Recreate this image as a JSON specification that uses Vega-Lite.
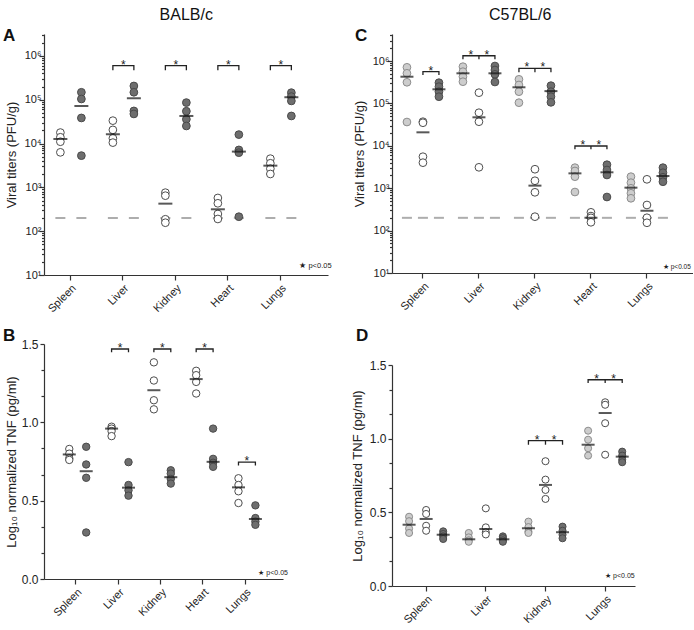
{
  "$schema": "https://vega.github.io/schema/vega-lite/v6.json",
  "padding": {"left": 3, "top": 7, "right": 0, "bottom": 0},
  "config": {
    "font": "Liberation Sans",
    "view": {"stroke": null},
    "axis": {"grid": false, "domainColor": "#333", "tickColor": "#333", "labelColor": "#222", "titleColor": "#222", "labelFontSize": 11, "titleFontSize": 13, "titleFontWeight": "normal", "domainWidth": 1.2, "tickWidth": 1.2, "labelOverlap": false, "labelFlush": false},
    "title": {"color": "#111", "font": "Liberation Sans"}
  },
  "datasets": {
    "A_pts": [
      {"organ": "Spleen", "group": "open", "v": 17800}, {"organ": "Spleen", "group": "open", "v": 13900}, {"organ": "Spleen", "group": "open", "v": 11000}, {"organ": "Spleen", "group": "open", "v": 6300},
      {"organ": "Spleen", "group": "filled", "v": 148000}, {"organ": "Spleen", "group": "filled", "v": 104000}, {"organ": "Spleen", "group": "filled", "v": 38400}, {"organ": "Spleen", "group": "filled", "v": 5300},
      {"organ": "Liver", "group": "open", "v": 33300}, {"organ": "Liver", "group": "open", "v": 20500}, {"organ": "Liver", "group": "open", "v": 13200}, {"organ": "Liver", "group": "open", "v": 10500},
      {"organ": "Liver", "group": "filled", "v": 206000}, {"organ": "Liver", "group": "filled", "v": 148000}, {"organ": "Liver", "group": "filled", "v": 55500}, {"organ": "Liver", "group": "filled", "v": 47400},
      {"organ": "Kidney", "group": "open", "v": 757}, {"organ": "Kidney", "group": "open", "v": 646}, {"organ": "Kidney", "group": "open", "v": 187}, {"organ": "Kidney", "group": "open", "v": 156},
      {"organ": "Kidney", "group": "filled", "v": 86000}, {"organ": "Kidney", "group": "filled", "v": 54600}, {"organ": "Kidney", "group": "filled", "v": 35900}, {"organ": "Kidney", "group": "filled", "v": 25200},
      {"organ": "Heart", "group": "open", "v": 573}, {"organ": "Heart", "group": "open", "v": 433}, {"organ": "Heart", "group": "open", "v": 247}, {"organ": "Heart", "group": "open", "v": 190},
      {"organ": "Heart", "group": "filled", "v": 16000}, {"organ": "Heart", "group": "filled", "v": 7150}, {"organ": "Heart", "group": "filled", "v": 6200}, {"organ": "Heart", "group": "filled", "v": 214},
      {"organ": "Lungs", "group": "open", "v": 4520}, {"organ": "Lungs", "group": "open", "v": 3550}, {"organ": "Lungs", "group": "open", "v": 2670}, {"organ": "Lungs", "group": "open", "v": 2020},
      {"organ": "Lungs", "group": "filled", "v": 145000}, {"organ": "Lungs", "group": "filled", "v": 118000}, {"organ": "Lungs", "group": "filled", "v": 94000}, {"organ": "Lungs", "group": "filled", "v": 42600}
    ],
    "A_mean": [
      {"organ": "Spleen", "group": "open", "v": 12700}, {"organ": "Spleen", "group": "filled", "v": 72000},
      {"organ": "Liver", "group": "open", "v": 16300}, {"organ": "Liver", "group": "filled", "v": 108000},
      {"organ": "Kidney", "group": "open", "v": 425}, {"organ": "Kidney", "group": "filled", "v": 42600},
      {"organ": "Heart", "group": "open", "v": 316}, {"organ": "Heart", "group": "filled", "v": 6550},
      {"organ": "Lungs", "group": "open", "v": 3130}, {"organ": "Lungs", "group": "filled", "v": 114000}
    ],
    "A_lod": [
      {"organ": "Spleen", "group": "open", "v": 200}, {"organ": "Spleen", "group": "filled", "v": 200},
      {"organ": "Liver", "group": "open", "v": 200}, {"organ": "Liver", "group": "filled", "v": 200},
      {"organ": "Kidney", "group": "open", "v": 200}, {"organ": "Kidney", "group": "filled", "v": 200},
      {"organ": "Heart", "group": "open", "v": 200}, {"organ": "Heart", "group": "filled", "v": 200},
      {"organ": "Lungs", "group": "open", "v": 200}, {"organ": "Lungs", "group": "filled", "v": 200}
    ],
    "A_br": [
      {"id": "Liver", "organ": "Liver", "group": "open", "v": 470000, "ord": 1}, {"id": "Liver", "organ": "Liver", "group": "open", "v": 600000, "ord": 2}, {"id": "Liver", "organ": "Liver", "group": "filled", "v": 600000, "ord": 3}, {"id": "Liver", "organ": "Liver", "group": "filled", "v": 470000, "ord": 4},
      {"id": "Kidney", "organ": "Kidney", "group": "open", "v": 470000, "ord": 1}, {"id": "Kidney", "organ": "Kidney", "group": "open", "v": 600000, "ord": 2}, {"id": "Kidney", "organ": "Kidney", "group": "filled", "v": 600000, "ord": 3}, {"id": "Kidney", "organ": "Kidney", "group": "filled", "v": 470000, "ord": 4},
      {"id": "Heart", "organ": "Heart", "group": "open", "v": 470000, "ord": 1}, {"id": "Heart", "organ": "Heart", "group": "open", "v": 600000, "ord": 2}, {"id": "Heart", "organ": "Heart", "group": "filled", "v": 600000, "ord": 3}, {"id": "Heart", "organ": "Heart", "group": "filled", "v": 470000, "ord": 4},
      {"id": "Lungs", "organ": "Lungs", "group": "open", "v": 470000, "ord": 1}, {"id": "Lungs", "organ": "Lungs", "group": "open", "v": 600000, "ord": 2}, {"id": "Lungs", "organ": "Lungs", "group": "filled", "v": 600000, "ord": 3}, {"id": "Lungs", "organ": "Lungs", "group": "filled", "v": 470000, "ord": 4}
    ],
    "A_star": [
      {"organ": "Liver", "group": "mid", "v": 600000}, {"organ": "Kidney", "group": "mid", "v": 600000}, {"organ": "Heart", "group": "mid", "v": 600000}, {"organ": "Lungs", "group": "mid", "v": 600000}
    ],
    "A_note": [{"organ": "Lungs", "group": "filled", "v": 14.5}],
    "B_pts": [
      {"organ": "Spleen", "group": "open", "v": 0.83}, {"organ": "Spleen", "group": "open", "v": 0.80}, {"organ": "Spleen", "group": "open", "v": 0.77}, {"organ": "Spleen", "group": "open", "v": 0.76},
      {"organ": "Spleen", "group": "filled", "v": 0.844}, {"organ": "Spleen", "group": "filled", "v": 0.731}, {"organ": "Spleen", "group": "filled", "v": 0.646}, {"organ": "Spleen", "group": "filled", "v": 0.297},
      {"organ": "Liver", "group": "open", "v": 0.972}, {"organ": "Liver", "group": "open", "v": 0.96}, {"organ": "Liver", "group": "open", "v": 0.944}, {"organ": "Liver", "group": "open", "v": 0.912},
      {"organ": "Liver", "group": "filled", "v": 0.746}, {"organ": "Liver", "group": "filled", "v": 0.60}, {"organ": "Liver", "group": "filled", "v": 0.566}, {"organ": "Liver", "group": "filled", "v": 0.532},
      {"organ": "Kidney", "group": "open", "v": 1.383}, {"organ": "Kidney", "group": "open", "v": 1.267}, {"organ": "Kidney", "group": "open", "v": 1.141}, {"organ": "Kidney", "group": "open", "v": 1.083},
      {"organ": "Kidney", "group": "filled", "v": 0.694}, {"organ": "Kidney", "group": "filled", "v": 0.673}, {"organ": "Kidney", "group": "filled", "v": 0.639}, {"organ": "Kidney", "group": "filled", "v": 0.609},
      {"organ": "Heart", "group": "open", "v": 1.329}, {"organ": "Heart", "group": "open", "v": 1.301}, {"organ": "Heart", "group": "open", "v": 1.258}, {"organ": "Heart", "group": "open", "v": 1.184},
      {"organ": "Heart", "group": "filled", "v": 0.96}, {"organ": "Heart", "group": "filled", "v": 0.767}, {"organ": "Heart", "group": "filled", "v": 0.742}, {"organ": "Heart", "group": "filled", "v": 0.716},
      {"organ": "Lungs", "group": "open", "v": 0.643}, {"organ": "Lungs", "group": "open", "v": 0.60}, {"organ": "Lungs", "group": "open", "v": 0.56}, {"organ": "Lungs", "group": "open", "v": 0.485},
      {"organ": "Lungs", "group": "filled", "v": 0.47}, {"organ": "Lungs", "group": "filled", "v": 0.389}, {"organ": "Lungs", "group": "filled", "v": 0.367}, {"organ": "Lungs", "group": "filled", "v": 0.346}
    ],
    "B_mean": [
      {"organ": "Spleen", "group": "open", "v": 0.795}, {"organ": "Spleen", "group": "filled", "v": 0.688},
      {"organ": "Liver", "group": "open", "v": 0.96}, {"organ": "Liver", "group": "filled", "v": 0.583},
      {"organ": "Kidney", "group": "open", "v": 1.205}, {"organ": "Kidney", "group": "filled", "v": 0.65},
      {"organ": "Heart", "group": "open", "v": 1.276}, {"organ": "Heart", "group": "filled", "v": 0.748},
      {"organ": "Lungs", "group": "open", "v": 0.585}, {"organ": "Lungs", "group": "filled", "v": 0.383}
    ],
    "B_br": [
      {"id": "Liver", "organ": "Liver", "group": "open", "v": 1.447, "ord": 1}, {"id": "Liver", "organ": "Liver", "group": "open", "v": 1.468, "ord": 2}, {"id": "Liver", "organ": "Liver", "group": "filled", "v": 1.468, "ord": 3}, {"id": "Liver", "organ": "Liver", "group": "filled", "v": 1.447, "ord": 4},
      {"id": "Kidney", "organ": "Kidney", "group": "open", "v": 1.447, "ord": 1}, {"id": "Kidney", "organ": "Kidney", "group": "open", "v": 1.468, "ord": 2}, {"id": "Kidney", "organ": "Kidney", "group": "filled", "v": 1.468, "ord": 3}, {"id": "Kidney", "organ": "Kidney", "group": "filled", "v": 1.447, "ord": 4},
      {"id": "Heart", "organ": "Heart", "group": "open", "v": 1.447, "ord": 1}, {"id": "Heart", "organ": "Heart", "group": "open", "v": 1.468, "ord": 2}, {"id": "Heart", "organ": "Heart", "group": "filled", "v": 1.468, "ord": 3}, {"id": "Heart", "organ": "Heart", "group": "filled", "v": 1.447, "ord": 4},
      {"id": "Lungs", "organ": "Lungs", "group": "open", "v": 0.724, "ord": 1}, {"id": "Lungs", "organ": "Lungs", "group": "open", "v": 0.746, "ord": 2}, {"id": "Lungs", "organ": "Lungs", "group": "filled", "v": 0.746, "ord": 3}, {"id": "Lungs", "organ": "Lungs", "group": "filled", "v": 0.724, "ord": 4}
    ],
    "B_star": [
      {"organ": "Liver", "group": "mid", "v": 1.468}, {"organ": "Kidney", "group": "mid", "v": 1.468}, {"organ": "Heart", "group": "mid", "v": 1.468}, {"organ": "Lungs", "group": "mid", "v": 0.746}
    ],
    "B_note": [{"organ": "Lungs", "group": "filled", "v": 0.026}],
    "C_pts": [
      {"organ": "Spleen", "group": "light", "v": 710000}, {"organ": "Spleen", "group": "light", "v": 513000}, {"organ": "Spleen", "group": "light", "v": 315000}, {"organ": "Spleen", "group": "light", "v": 36400},
      {"organ": "Spleen", "group": "open", "v": 37000}, {"organ": "Spleen", "group": "open", "v": 35000}, {"organ": "Spleen", "group": "open", "v": 5530}, {"organ": "Spleen", "group": "open", "v": 4000},
      {"organ": "Spleen", "group": "dark", "v": 308000}, {"organ": "Spleen", "group": "dark", "v": 248000}, {"organ": "Spleen", "group": "dark", "v": 189000}, {"organ": "Spleen", "group": "dark", "v": 144000},
      {"organ": "Liver", "group": "light", "v": 735000}, {"organ": "Liver", "group": "light", "v": 560000}, {"organ": "Liver", "group": "light", "v": 427000}, {"organ": "Liver", "group": "light", "v": 325000},
      {"organ": "Liver", "group": "open", "v": 179000}, {"organ": "Liver", "group": "open", "v": 60300}, {"organ": "Liver", "group": "open", "v": 37000}, {"organ": "Liver", "group": "open", "v": 3110},
      {"organ": "Liver", "group": "dark", "v": 762000}, {"organ": "Liver", "group": "dark", "v": 614000}, {"organ": "Liver", "group": "dark", "v": 485000}, {"organ": "Liver", "group": "dark", "v": 320000},
      {"organ": "Kidney", "group": "light", "v": 370000}, {"organ": "Kidney", "group": "light", "v": 272000}, {"organ": "Kidney", "group": "light", "v": 189000}, {"organ": "Kidney", "group": "light", "v": 104000},
      {"organ": "Kidney", "group": "open", "v": 2800}, {"organ": "Kidney", "group": "open", "v": 1500}, {"organ": "Kidney", "group": "open", "v": 800}, {"organ": "Kidney", "group": "open", "v": 213},
      {"organ": "Kidney", "group": "dark", "v": 262000}, {"organ": "Kidney", "group": "dark", "v": 189000}, {"organ": "Kidney", "group": "dark", "v": 144000}, {"organ": "Kidney", "group": "dark", "v": 106000},
      {"organ": "Heart", "group": "light", "v": 3050}, {"organ": "Heart", "group": "light", "v": 2550}, {"organ": "Heart", "group": "light", "v": 1870}, {"organ": "Heart", "group": "light", "v": 813},
      {"organ": "Heart", "group": "open", "v": 270}, {"organ": "Heart", "group": "open", "v": 220}, {"organ": "Heart", "group": "open", "v": 200}, {"organ": "Heart", "group": "open", "v": 157},
      {"organ": "Heart", "group": "dark", "v": 3580}, {"organ": "Heart", "group": "dark", "v": 2690}, {"organ": "Heart", "group": "dark", "v": 2050}, {"organ": "Heart", "group": "dark", "v": 620},
      {"organ": "Lungs", "group": "light", "v": 1870}, {"organ": "Lungs", "group": "light", "v": 1350}, {"organ": "Lungs", "group": "light", "v": 995}, {"organ": "Lungs", "group": "light", "v": 760}, {"organ": "Lungs", "group": "light", "v": 578},
      {"organ": "Lungs", "group": "open", "v": 1620}, {"organ": "Lungs", "group": "open", "v": 402}, {"organ": "Lungs", "group": "open", "v": 201}, {"organ": "Lungs", "group": "open", "v": 153},
      {"organ": "Lungs", "group": "dark", "v": 3050}, {"organ": "Lungs", "group": "dark", "v": 2320}, {"organ": "Lungs", "group": "dark", "v": 1810}, {"organ": "Lungs", "group": "dark", "v": 1420}
    ],
    "C_mean": [
      {"organ": "Spleen", "group": "light", "v": 426000}, {"organ": "Spleen", "group": "open", "v": 20800}, {"organ": "Spleen", "group": "dark", "v": 215000},
      {"organ": "Liver", "group": "light", "v": 513000}, {"organ": "Liver", "group": "open", "v": 47000}, {"organ": "Liver", "group": "dark", "v": 513000},
      {"organ": "Kidney", "group": "light", "v": 240000}, {"organ": "Kidney", "group": "open", "v": 1150}, {"organ": "Kidney", "group": "dark", "v": 195000},
      {"organ": "Heart", "group": "light", "v": 2240}, {"organ": "Heart", "group": "open", "v": 201}, {"organ": "Heart", "group": "dark", "v": 2370},
      {"organ": "Lungs", "group": "light", "v": 1030}, {"organ": "Lungs", "group": "open", "v": 294}, {"organ": "Lungs", "group": "dark", "v": 1940}
    ],
    "C_lod": [
      {"organ": "Spleen", "group": "light", "v": 200}, {"organ": "Spleen", "group": "open", "v": 200}, {"organ": "Spleen", "group": "dark", "v": 200},
      {"organ": "Liver", "group": "light", "v": 200}, {"organ": "Liver", "group": "open", "v": 200}, {"organ": "Liver", "group": "dark", "v": 200},
      {"organ": "Kidney", "group": "light", "v": 200}, {"organ": "Kidney", "group": "open", "v": 200}, {"organ": "Kidney", "group": "dark", "v": 200},
      {"organ": "Heart", "group": "light", "v": 200}, {"organ": "Heart", "group": "open", "v": 200}, {"organ": "Heart", "group": "dark", "v": 200},
      {"organ": "Lungs", "group": "light", "v": 200}, {"organ": "Lungs", "group": "open", "v": 200}, {"organ": "Lungs", "group": "dark", "v": 200}
    ],
    "C_br": [
      {"id": "Spleen", "organ": "Spleen", "group": "open", "v": 468000, "ord": 1}, {"id": "Spleen", "organ": "Spleen", "group": "open", "v": 560000, "ord": 2}, {"id": "Spleen", "organ": "Spleen", "group": "dark", "v": 560000, "ord": 3}, {"id": "Spleen", "organ": "Spleen", "group": "dark", "v": 468000, "ord": 4},
      {"id": "Liver", "organ": "Liver", "group": "light", "v": 1100000, "ord": 1}, {"id": "Liver", "organ": "Liver", "group": "light", "v": 1330000, "ord": 2}, {"id": "Liver", "organ": "Liver", "group": "dark", "v": 1330000, "ord": 3}, {"id": "Liver", "organ": "Liver", "group": "dark", "v": 1100000, "ord": 4},
      {"id": "Liver-m", "organ": "Liver", "group": "open", "v": 1330000, "ord": 1}, {"id": "Liver-m", "organ": "Liver", "group": "open", "v": 1100000, "ord": 2},
      {"id": "Kidney", "organ": "Kidney", "group": "light", "v": 542000, "ord": 1}, {"id": "Kidney", "organ": "Kidney", "group": "light", "v": 673000, "ord": 2}, {"id": "Kidney", "organ": "Kidney", "group": "dark", "v": 673000, "ord": 3}, {"id": "Kidney", "organ": "Kidney", "group": "dark", "v": 542000, "ord": 4},
      {"id": "Kidney-m", "organ": "Kidney", "group": "open", "v": 673000, "ord": 1}, {"id": "Kidney-m", "organ": "Kidney", "group": "open", "v": 542000, "ord": 2},
      {"id": "Heart", "organ": "Heart", "group": "light", "v": 8260, "ord": 1}, {"id": "Heart", "organ": "Heart", "group": "light", "v": 9900, "ord": 2}, {"id": "Heart", "organ": "Heart", "group": "dark", "v": 9900, "ord": 3}, {"id": "Heart", "organ": "Heart", "group": "dark", "v": 8260, "ord": 4},
      {"id": "Heart-m", "organ": "Heart", "group": "open", "v": 9900, "ord": 1}, {"id": "Heart-m", "organ": "Heart", "group": "open", "v": 8260, "ord": 2}
    ],
    "C_star": [
      {"organ": "Spleen", "group": "od", "v": 560000},
      {"organ": "Liver", "group": "lo", "v": 1330000}, {"organ": "Liver", "group": "od", "v": 1330000},
      {"organ": "Kidney", "group": "lo", "v": 673000}, {"organ": "Kidney", "group": "od", "v": 673000},
      {"organ": "Heart", "group": "lo", "v": 9900}, {"organ": "Heart", "group": "od", "v": 9900}
    ],
    "C_note": [{"organ": "Lungs", "group": "dark", "v": 12.4}],
    "D_pts": [
      {"organ": "Spleen", "group": "light", "v": 0.47}, {"organ": "Spleen", "group": "light", "v": 0.44}, {"organ": "Spleen", "group": "light", "v": 0.39}, {"organ": "Spleen", "group": "light", "v": 0.36},
      {"organ": "Spleen", "group": "open", "v": 0.516}, {"organ": "Spleen", "group": "open", "v": 0.489}, {"organ": "Spleen", "group": "open", "v": 0.409}, {"organ": "Spleen", "group": "open", "v": 0.375},
      {"organ": "Spleen", "group": "dark", "v": 0.371}, {"organ": "Spleen", "group": "dark", "v": 0.353}, {"organ": "Spleen", "group": "dark", "v": 0.337}, {"organ": "Spleen", "group": "dark", "v": 0.319},
      {"organ": "Liver", "group": "light", "v": 0.36}, {"organ": "Liver", "group": "light", "v": 0.33}, {"organ": "Liver", "group": "light", "v": 0.31}, {"organ": "Liver", "group": "light", "v": 0.30},
      {"organ": "Liver", "group": "open", "v": 0.527}, {"organ": "Liver", "group": "open", "v": 0.398}, {"organ": "Liver", "group": "open", "v": 0.365}, {"organ": "Liver", "group": "open", "v": 0.35},
      {"organ": "Liver", "group": "dark", "v": 0.337}, {"organ": "Liver", "group": "dark", "v": 0.325}, {"organ": "Liver", "group": "dark", "v": 0.31}, {"organ": "Liver", "group": "dark", "v": 0.30},
      {"organ": "Kidney", "group": "light", "v": 0.437}, {"organ": "Kidney", "group": "light", "v": 0.40}, {"organ": "Kidney", "group": "light", "v": 0.37}, {"organ": "Kidney", "group": "light", "v": 0.36},
      {"organ": "Kidney", "group": "open", "v": 0.847}, {"organ": "Kidney", "group": "open", "v": 0.722}, {"organ": "Kidney", "group": "open", "v": 0.652}, {"organ": "Kidney", "group": "open", "v": 0.591},
      {"organ": "Kidney", "group": "dark", "v": 0.403}, {"organ": "Kidney", "group": "dark", "v": 0.375}, {"organ": "Kidney", "group": "dark", "v": 0.348}, {"organ": "Kidney", "group": "dark", "v": 0.324},
      {"organ": "Lungs", "group": "light", "v": 1.054}, {"organ": "Lungs", "group": "light", "v": 0.993}, {"organ": "Lungs", "group": "light", "v": 0.935}, {"organ": "Lungs", "group": "light", "v": 0.885},
      {"organ": "Lungs", "group": "open", "v": 1.247}, {"organ": "Lungs", "group": "open", "v": 1.23}, {"organ": "Lungs", "group": "open", "v": 1.105}, {"organ": "Lungs", "group": "open", "v": 0.891},
      {"organ": "Lungs", "group": "dark", "v": 0.912}, {"organ": "Lungs", "group": "dark", "v": 0.885}, {"organ": "Lungs", "group": "dark", "v": 0.857}, {"organ": "Lungs", "group": "dark", "v": 0.84}
    ],
    "D_mean": [
      {"organ": "Spleen", "group": "light", "v": 0.416}, {"organ": "Spleen", "group": "open", "v": 0.455}, {"organ": "Spleen", "group": "dark", "v": 0.348},
      {"organ": "Liver", "group": "light", "v": 0.317}, {"organ": "Liver", "group": "open", "v": 0.387}, {"organ": "Liver", "group": "dark", "v": 0.317},
      {"organ": "Kidney", "group": "light", "v": 0.392}, {"organ": "Kidney", "group": "open", "v": 0.686}, {"organ": "Kidney", "group": "dark", "v": 0.365},
      {"organ": "Lungs", "group": "light", "v": 0.959}, {"organ": "Lungs", "group": "open", "v": 1.174}, {"organ": "Lungs", "group": "dark", "v": 0.878}
    ],
    "D_br": [
      {"id": "Kidney", "organ": "Kidney", "group": "light", "v": 0.959, "ord": 1}, {"id": "Kidney", "organ": "Kidney", "group": "light", "v": 0.987, "ord": 2}, {"id": "Kidney", "organ": "Kidney", "group": "dark", "v": 0.987, "ord": 3}, {"id": "Kidney", "organ": "Kidney", "group": "dark", "v": 0.959, "ord": 4},
      {"id": "Kidney-m", "organ": "Kidney", "group": "open", "v": 0.987, "ord": 1}, {"id": "Kidney-m", "organ": "Kidney", "group": "open", "v": 0.959, "ord": 2},
      {"id": "Lungs", "organ": "Lungs", "group": "light", "v": 1.378, "ord": 1}, {"id": "Lungs", "organ": "Lungs", "group": "light", "v": 1.40, "ord": 2}, {"id": "Lungs", "organ": "Lungs", "group": "dark", "v": 1.40, "ord": 3}, {"id": "Lungs", "organ": "Lungs", "group": "dark", "v": 1.378, "ord": 4},
      {"id": "Lungs-m", "organ": "Lungs", "group": "open", "v": 1.40, "ord": 1}, {"id": "Lungs-m", "organ": "Lungs", "group": "open", "v": 1.378, "ord": 2}
    ],
    "D_star": [
      {"organ": "Kidney", "group": "lo", "v": 0.987}, {"organ": "Kidney", "group": "od", "v": 0.987},
      {"organ": "Lungs", "group": "lo", "v": 1.40}, {"organ": "Lungs", "group": "od", "v": 1.40}
    ],
    "D_note": [{"organ": "Lungs", "group": "open", "v": 0.054}]
  },
  "hconcat": [
    {
      "title": {"text": "BALB/c", "anchor": "middle", "frame": "bounds", "fontSize": 16, "fontWeight": "normal", "offset": 4, "dx": 19},
      "spacing": 13,
      "resolve": {"scale": {"x": "independent", "y": "independent", "xOffset": "independent", "fill": "independent", "stroke": "independent"}},
      "vconcat": [
        {
          "width": 284, "height": 241,
          "title": {"text": "A", "anchor": "start", "frame": "group", "dx": -41, "offset": -16, "fontSize": 17, "fontWeight": "bold"},
          "encoding": {
            "x": {"field": "organ", "type": "nominal", "scale": {"domain": ["Spleen", "Liver", "Kidney", "Heart", "Lungs"], "paddingInner": 0, "paddingOuter": 0.205, "align": 0}, "axis": {"title": null, "labelAngle": -45, "tickSize": 5, "labelFontSize": 11}},
            "xOffset": {"field": "group", "type": "nominal", "scale": {"domain": ["open", "mid", "filled"], "paddingInner": 0, "paddingOuter": 2.875, "align": 0.53}},
            "y": {"field": "v", "type": "quantitative", "scale": {"type": "log", "domain": [10, 3162278], "nice": false}, "axis": {"title": "Viral titers (PFU/g)", "titlePadding": 6, "labelPadding": -2, "labelFontSize": 11,
              "values": [10, 20, 30, 40, 50, 60, 70, 80, 90, 100, 200, 300, 400, 500, 600, 700, 800, 900, 1000, 2000, 3000, 4000, 5000, 6000, 7000, 8000, 9000, 10000, 20000, 30000, 40000, 50000, 60000, 70000, 80000, 90000, 100000, 200000, 300000, 400000, 500000, 600000, 700000, 800000, 900000, 1000000, 2000000, 3000000],
              "labelExpr": "datum.value == 10 ? '10¹' : datum.value == 100 ? '10²' : datum.value == 1000 ? '10³' : datum.value == 10000 ? '10⁴' : datum.value == 100000 ? '10⁵' : datum.value == 1000000 ? '10⁶' : ''",
              "tickSize": {"condition": {"test": "indexof([10, 100, 1000, 10000, 100000, 1000000], datum.value) >= 0", "value": 5}, "value": 2.5}}}
          },
          "layer": [
            {"data": {"name": "A_lod"}, "mark": {"type": "tick", "color": "#8a8a8a", "size": 10, "thickness": 2}},
            {"data": {"name": "A_pts"}, "mark": {"type": "circle", "size": 60, "strokeWidth": 1, "opacity": 1},
              "encoding": {
                "fill": {"field": "group", "type": "nominal", "scale": {"domain": ["open", "filled"], "range": ["#ffffff", "#6e6e6e"]}, "legend": null},
                "stroke": {"field": "group", "type": "nominal", "scale": {"domain": ["open", "filled"], "range": ["#4d4d4d", "#4a4a4a"]}, "legend": null}}},
            {"data": {"name": "A_mean"}, "mark": {"type": "tick", "color": "#111", "size": 14, "thickness": 2}},
            {"data": {"name": "A_br"}, "mark": {"type": "line", "color": "#222", "strokeWidth": 1.3}, "encoding": {"detail": {"field": "id"}, "order": {"field": "ord"}}},
            {"data": {"name": "A_star"}, "mark": {"type": "text", "text": "*", "fontSize": 12, "baseline": "alphabetic", "dy": 3, "color": "#222"}},
            {"data": {"name": "A_note"}, "mark": {"type": "text", "text": "★ p<0.05", "fontSize": 7.5, "align": "left", "baseline": "alphabetic", "dx": 8, "color": "#222"}}
          ]
        },
        {
          "width": 239, "height": 235,
          "title": {"text": "B", "anchor": "start", "frame": "group", "dx": -41, "offset": -7, "fontSize": 17, "fontWeight": "bold"},
          "encoding": {
            "x": {"field": "organ", "type": "nominal", "scale": {"domain": ["Spleen", "Liver", "Kidney", "Heart", "Lungs"], "paddingInner": 0, "paddingOuter": 0.325, "align": 0.39}, "axis": {"title": null, "labelAngle": -45, "tickSize": 5, "labelFontSize": 11}},
            "xOffset": {"field": "group", "type": "nominal", "scale": {"domain": ["open", "mid", "filled"], "paddingInner": 0, "paddingOuter": 2.73, "align": 0.61}},
            "y": {"field": "v", "type": "quantitative", "scale": {"domain": [0, 1.5], "nice": false}, "axis": {"title": "Log₁₀ normalized TNF (pg/ml)", "titlePadding": 3, "labelPadding": 2, "labelFontSize": 12,
              "values": [0, 0.16667, 0.33333, 0.5, 0.66667, 0.83333, 1, 1.16667, 1.33333, 1.5],
              "labelExpr": "datum.value == 0 || datum.value == 0.5 || datum.value == 1 || datum.value == 1.5 ? format(datum.value, '.1f') : ''",
              "tickSize": {"condition": {"test": "datum.value == 0 || datum.value == 0.5 || datum.value == 1 || datum.value == 1.5", "value": 4}, "value": 3}}}
          },
          "layer": [
            {"data": {"name": "B_pts"}, "mark": {"type": "circle", "size": 55, "strokeWidth": 1, "opacity": 1},
              "encoding": {
                "fill": {"field": "group", "type": "nominal", "scale": {"domain": ["open", "filled"], "range": ["#ffffff", "#6e6e6e"]}, "legend": null},
                "stroke": {"field": "group", "type": "nominal", "scale": {"domain": ["open", "filled"], "range": ["#4d4d4d", "#4a4a4a"]}, "legend": null}}},
            {"data": {"name": "B_mean"}, "mark": {"type": "tick", "color": "#111", "size": 13, "thickness": 2}},
            {"data": {"name": "B_br"}, "mark": {"type": "line", "color": "#222", "strokeWidth": 1.3}, "encoding": {"detail": {"field": "id"}, "order": {"field": "ord"}}},
            {"data": {"name": "B_star"}, "mark": {"type": "text", "text": "*", "fontSize": 12, "baseline": "alphabetic", "dy": 3, "color": "#222"}},
            {"data": {"name": "B_note"}, "mark": {"type": "text", "text": "★ p<0.05", "fontSize": 7, "align": "left", "baseline": "alphabetic", "dx": 3, "color": "#222"}}
          ]
        }
      ]
    },
    {
      "title": {"text": "C57BL/6", "anchor": "middle", "frame": "bounds", "fontSize": 16, "fontWeight": "normal", "offset": 4, "dx": -2},
      "spacing": 15,
      "resolve": {"scale": {"x": "independent", "y": "independent", "xOffset": "independent", "fill": "independent", "stroke": "independent"}},
      "vconcat": [
        {
          "width": 301, "height": 239,
          "title": {"text": "C", "anchor": "start", "frame": "group", "dx": -37, "offset": -16, "fontSize": 17, "fontWeight": "bold"},
          "encoding": {
            "x": {"field": "organ", "type": "nominal", "scale": {"domain": ["Spleen", "Liver", "Kidney", "Heart", "Lungs"], "paddingInner": 0, "paddingOuter": 0.1875, "align": 0.14}, "axis": {"title": null, "labelAngle": -45, "tickSize": 5, "labelFontSize": 11}},
            "xOffset": {"field": "group", "type": "nominal", "scale": {"domain": ["light", "lo", "open", "od", "dark"], "paddingInner": 0, "paddingOuter": 2.17, "align": 0.5}},
            "y": {"field": "v", "type": "quantitative", "scale": {"type": "log", "domain": [10, 4335000], "nice": false}, "axis": {"title": "Viral titers (PFU/g)", "titlePadding": 6, "labelPadding": -2, "labelFontSize": 11,
              "values": [10, 20, 30, 40, 50, 60, 70, 80, 90, 100, 200, 300, 400, 500, 600, 700, 800, 900, 1000, 2000, 3000, 4000, 5000, 6000, 7000, 8000, 9000, 10000, 20000, 30000, 40000, 50000, 60000, 70000, 80000, 90000, 100000, 200000, 300000, 400000, 500000, 600000, 700000, 800000, 900000, 1000000, 2000000, 3000000, 4000000],
              "labelExpr": "datum.value == 10 ? '10¹' : datum.value == 100 ? '10²' : datum.value == 1000 ? '10³' : datum.value == 10000 ? '10⁴' : datum.value == 100000 ? '10⁵' : datum.value == 1000000 ? '10⁶' : ''",
              "tickSize": {"condition": {"test": "indexof([10, 100, 1000, 10000, 100000, 1000000], datum.value) >= 0", "value": 5}, "value": 2.5}}}
          },
          "layer": [
            {"data": {"name": "C_lod"}, "mark": {"type": "tick", "color": "#8a8a8a", "size": 10, "thickness": 2}},
            {"data": {"name": "C_pts"}, "mark": {"type": "circle", "size": 60, "strokeWidth": 1, "opacity": 1},
              "encoding": {
                "fill": {"field": "group", "type": "nominal", "scale": {"domain": ["light", "open", "dark"], "range": ["#cdcdcd", "#ffffff", "#6e6e6e"]}, "legend": null},
                "stroke": {"field": "group", "type": "nominal", "scale": {"domain": ["light", "open", "dark"], "range": ["#8c8c8c", "#4d4d4d", "#4a4a4a"]}, "legend": null}}},
            {"data": {"name": "C_mean"}, "mark": {"type": "tick", "color": "#111", "size": 13, "thickness": 2}},
            {"data": {"name": "C_br"}, "mark": {"type": "line", "color": "#222", "strokeWidth": 1.3}, "encoding": {"detail": {"field": "id"}, "order": {"field": "ord"}}},
            {"data": {"name": "C_star"}, "mark": {"type": "text", "text": "*", "fontSize": 12, "baseline": "alphabetic", "dy": 3, "color": "#222"}},
            {"data": {"name": "C_note"}, "mark": {"type": "text", "text": "★ p<0.05", "fontSize": 6.5, "align": "left", "baseline": "alphabetic", "dx": 0, "color": "#222"}}
          ]
        },
        {
          "width": 243, "height": 221,
          "title": {"text": "D", "anchor": "start", "frame": "group", "dx": -36, "offset": 14, "fontSize": 17, "fontWeight": "bold"},
          "encoding": {
            "x": {"field": "organ", "type": "nominal", "scale": {"domain": ["Spleen", "Liver", "Kidney", "Lungs"], "paddingInner": 0, "paddingOuter": 0.036, "align": 1}, "axis": {"title": null, "labelAngle": -45, "tickSize": 5, "labelFontSize": 11}},
            "xOffset": {"field": "group", "type": "nominal", "scale": {"domain": ["light", "lo", "open", "od", "dark"], "paddingInner": 0, "paddingOuter": 1.92, "align": 0.5}},
            "y": {"field": "v", "type": "quantitative", "scale": {"domain": [0, 1.5], "nice": false}, "axis": {"title": "Log₁₀ normalized TNF (pg/ml)", "titlePadding": 5, "labelPadding": 2, "labelFontSize": 12,
              "values": [0, 0.16667, 0.33333, 0.5, 0.66667, 0.83333, 1, 1.16667, 1.33333, 1.5],
              "labelExpr": "datum.value == 0 || datum.value == 0.5 || datum.value == 1 || datum.value == 1.5 ? format(datum.value, '.1f') : ''",
              "tickSize": {"condition": {"test": "datum.value == 0 || datum.value == 0.5 || datum.value == 1 || datum.value == 1.5", "value": 4}, "value": 3}}}
          },
          "layer": [
            {"data": {"name": "D_pts"}, "mark": {"type": "circle", "size": 50, "strokeWidth": 1, "opacity": 1},
              "encoding": {
                "fill": {"field": "group", "type": "nominal", "scale": {"domain": ["light", "open", "dark"], "range": ["#cdcdcd", "#ffffff", "#6e6e6e"]}, "legend": null},
                "stroke": {"field": "group", "type": "nominal", "scale": {"domain": ["light", "open", "dark"], "range": ["#8c8c8c", "#4d4d4d", "#4a4a4a"]}, "legend": null}}},
            {"data": {"name": "D_mean"}, "mark": {"type": "tick", "color": "#111", "size": 13, "thickness": 2}},
            {"data": {"name": "D_br"}, "mark": {"type": "line", "color": "#222", "strokeWidth": 1.3}, "encoding": {"detail": {"field": "id"}, "order": {"field": "ord"}}},
            {"data": {"name": "D_star"}, "mark": {"type": "text", "text": "*", "fontSize": 12, "baseline": "alphabetic", "dy": 3, "color": "#222"}},
            {"data": {"name": "D_note"}, "mark": {"type": "text", "text": "★ p<0.05", "fontSize": 7, "align": "left", "baseline": "alphabetic", "dx": 0, "color": "#222"}}
          ]
        }
      ]
    }
  ],
  "spacing": 19,
  "resolve": {"scale": {"x": "independent", "y": "independent", "xOffset": "independent", "fill": "independent", "stroke": "independent"}}
}
